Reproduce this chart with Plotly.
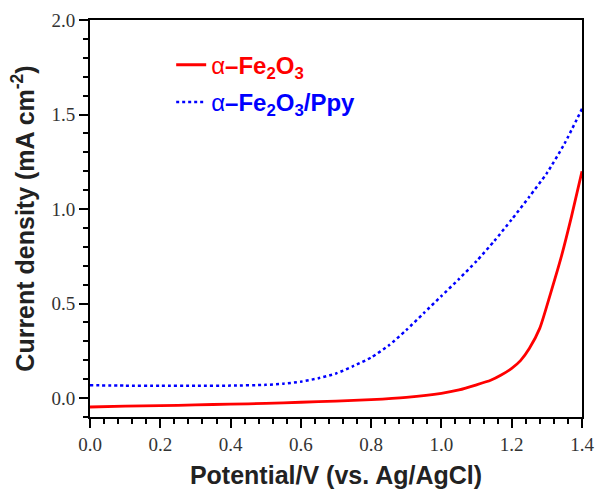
import plotly.graph_objects as go

# Potential (V vs. Ag/AgCl) and current density (mA cm^-2)
red_v = [0.0, 0.1, 0.2, 0.3, 0.4, 0.5, 0.6, 0.7, 0.8, 0.9, 1.0, 1.05, 1.1, 1.14,
         1.17, 1.2, 1.225, 1.25, 1.28, 1.31, 1.34, 1.37, 1.4]
red_i = [-0.047, -0.043, -0.040, -0.036, -0.032, -0.028, -0.022, -0.016, -0.008,
         0.004, 0.025, 0.043, 0.07, 0.094, 0.122, 0.157, 0.198, 0.262, 0.37, 0.55,
         0.74, 0.96, 1.2]

blue_v = [0.0, 0.1, 0.2, 0.3, 0.4, 0.5, 0.55, 0.6, 0.65, 0.7, 0.75, 0.8, 0.85,
          0.9, 0.95, 1.0, 1.05, 1.1, 1.15, 1.2, 1.25, 1.3, 1.35, 1.4]
blue_i = [0.068, 0.066, 0.065, 0.065, 0.066, 0.07, 0.076, 0.087, 0.105, 0.13,
          0.17, 0.215, 0.278, 0.36, 0.45, 0.54, 0.63, 0.725, 0.83, 0.945,
          1.065, 1.19, 1.345, 1.53]

x_ticks = [0.0, 0.2, 0.4, 0.6, 0.8, 1.0, 1.2, 1.4]
y_ticks = [0.0, 0.5, 1.0, 1.5, 2.0]

name_red = '<span style="color:#ff0000">α<b>–Fe<sub>2</sub>O<sub>3</sub></b></span>'
name_blue = '<span style="color:#0000ff">α<b>–Fe<sub>2</sub>O<sub>3</sub>/Ppy</b></span>'

fig = go.Figure()
fig.add_trace(go.Scatter(x=red_v, y=red_i, mode="lines", name=name_red,
                         legendgroup="a",
                         line=dict(color="#ff0000", width=2.8, shape="spline", smoothing=0.6)))
fig.add_trace(go.Scatter(x=blue_v, y=blue_i, mode="lines", name=name_blue,
                         legendgroup="b",
                         line=dict(color="#0000ff", width=2.5, dash="dot", shape="spline", smoothing=0.6)))

axis_common = dict(
    showline=True, linewidth=2, linecolor="black", mirror=True,
    ticks="outside", ticklen=9, tickwidth=2, tickcolor="black",
    showgrid=False, zeroline=False, automargin=False,
    tickfont=dict(family="Liberation Serif", size=19, color="#333333"),
)

fig.update_xaxes(range=[0, 1.4], tickvals=x_ticks,
                 ticktext=[f"{v:.1f}" for v in x_ticks],
                 minor=dict(dtick=0.04, tick0=0, ticks="outside", ticklen=5, tickwidth=2, tickcolor="black"),
                 title=dict(text="<b>Potential/V (vs. Ag/AgCl)</b>",
                            font=dict(family="Liberation Sans", size=25, color="#222222"),
                            standoff=13),
                 **axis_common)
fig.update_yaxes(range=[-0.1, 2.0], tickvals=y_ticks,
                 ticktext=[f"{v:.1f}" for v in y_ticks],
                 minor=dict(dtick=0.1, tick0=0, ticks="outside", ticklen=5, tickwidth=2, tickcolor="black"),
                 title=dict(text="<b>Current density (mA cm<sup>-2</sup>)</b>",
                            font=dict(family="Liberation Sans", size=25, color="#222222"),
                            standoff=10),
                 **axis_common)

fig.update_layout(
    width=595, height=490,
    margin=dict(l=90, r=13, t=20, b=73),
    plot_bgcolor="white", paper_bgcolor="white",
    showlegend=True,
    legend=dict(x=0.165, y=0.943, xanchor="left", yanchor="top",
                bgcolor="rgba(0,0,0,0)", borderwidth=0,
                font=dict(family="Liberation Sans", size=24),
                tracegroupgap=3, traceorder="grouped"),
)

fig.write_html("out.html")
